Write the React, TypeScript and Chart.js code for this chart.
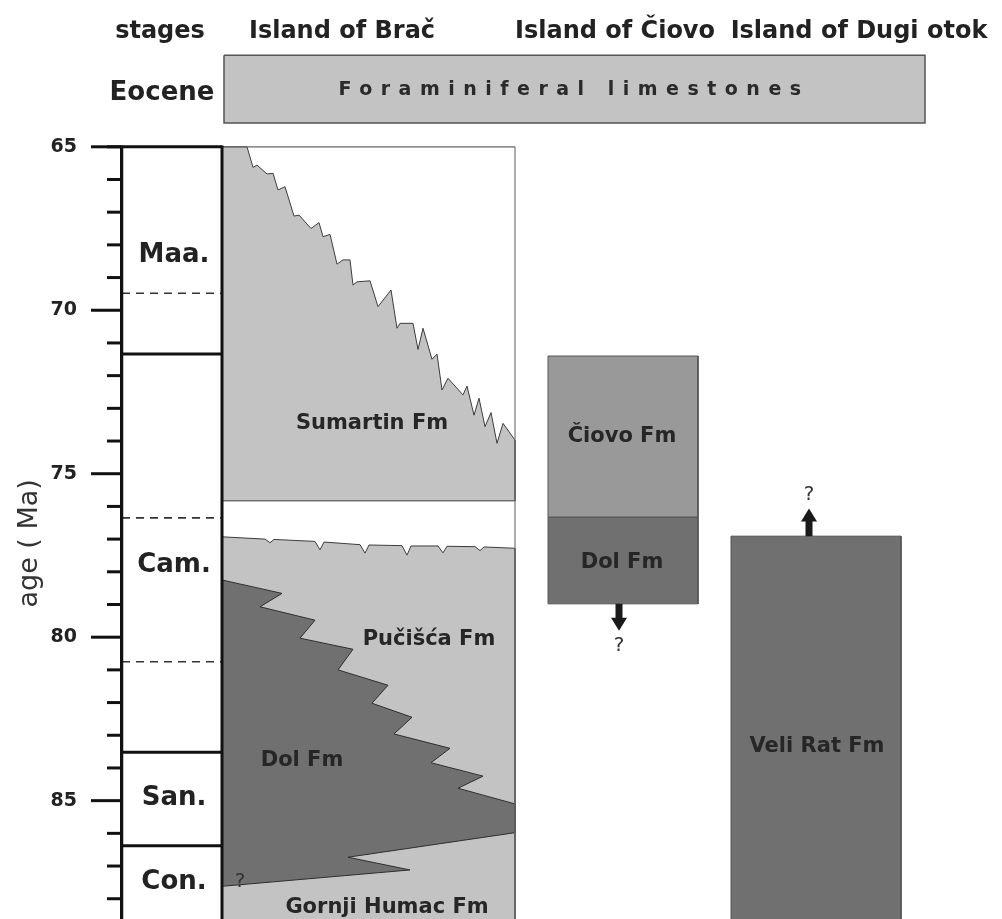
import { useEffect, useRef } from "react";
import { Chart, registerables } from "chart.js";

Chart.register(...registerables);

// ---- scale extents (age in Ma, lateral position in column units) ----
const AGE_TOP = 60.51;
const AGE_BOTTOM = 88.62;
const LAT_MIN = 120;
const LAT_MAX = 1002;

// ---- age axis ----
const majorTicks = [65, 70, 75, 80, 85];
const minorTicks = [66, 67, 68, 69, 71, 72, 73, 74, 76, 77, 78, 79, 81, 82, 83, 84, 86, 87, 88];
const axisTitle = "age ( Ma)";
const axisTitleAge = 77.13;

// ---- column headers ----
const headerNames = ["stages", "Island of Brač", "Island of Čiovo", "Island of Dugi otok"];
const headerPos = [160, 342, 615, 859];
const headerAge = 61.66;

// ---- Eocene ----
const eoceneName = "Eocene";
const eocenePos = 162;
const eoceneLabelAge = 63.57;
const eoceneBandAge = [62.2, 64.27];
const eoceneBandPos = [224, 925];
const eoceneUnit = "Foraminiferal limestones";
const eoceneUnitPos = 570;
const eoceneUnitAge = 63.42;

// ---- stages column ----
const stageColumnPos = [122, 222];
const stageNames = ["Maa.", "Cam.", "San.", "Con."];
const stageLabelAge = [68.31, 77.8, 84.92, 87.5];
const stageLabelPos = 174;
const stageSolidBounds = [65, 71.34, 83.52, 86.38];
const stageDashedBounds = [69.48, 76.35, 80.75];

// ---- Island of Brač ----
const bracPos = [222, 515];
const sumartinEdgePos = [247, 253, 257, 267, 273, 278, 285, 294, 299, 311, 319, 323, 330, 337, 343, 350, 353, 357, 370, 378, 391, 397, 400, 413, 418, 423, 432, 437, 442, 448, 463, 467, 474, 479, 485, 491, 497, 503, 515];
const sumartinEdgeAge = [65.0, 65.63, 65.56, 65.83, 65.81, 66.32, 66.22, 67.12, 67.09, 67.5, 67.32, 67.75, 67.68, 68.59, 68.46, 68.46, 69.23, 69.13, 69.1, 69.89, 69.38, 70.55, 70.4, 70.4, 71.2, 70.55, 71.5, 71.34, 72.44, 72.08, 72.59, 72.32, 73.21, 72.69, 73.56, 73.13, 74.07, 73.46, 73.97];
const sumartinBaseAge = 75.83;
const pucisceTopPos = [222, 265, 270, 274, 315, 320, 324, 360, 365, 369, 402, 407, 411, 438, 443, 447, 475, 480, 484, 515];
const pucisceTopAge = [76.93, 77.0, 77.11, 77.01, 77.07, 77.33, 77.09, 77.17, 77.43, 77.18, 77.2, 77.49, 77.21, 77.21, 77.42, 77.22, 77.23, 77.35, 77.24, 77.28];
const dolBracPos = [222, 282, 260, 315, 300, 353, 338, 388, 372, 412, 394, 450, 431, 483, 458, 515, 515, 348, 410, 222];
const dolBracAge = [78.25, 78.66, 79.07, 79.48, 80.03, 80.37, 81.0, 81.47, 82.02, 82.45, 82.96, 83.4, 83.84, 84.25, 84.62, 85.1, 85.98, 86.73, 87.12, 87.62];

// ---- Island of Čiovo ----
const ciovoPos = [548, 698];
const ciovoFmAge = [71.4, 76.33];
const ciovoDolAge = [76.33, 78.98];

// ---- Island of Dugi otok ----
const dugiPos = [731, 901];
const veliRatAge = [76.91, AGE_BOTTOM];

// ---- formation labels ----
const formationNames = ["Sumartin Fm", "Pučišća Fm", "Dol Fm", "Gornji Humac Fm", "Čiovo Fm", "Dol Fm", "Veli Rat Fm"];
const formationPos = [372, 429, 302, 387, 622, 622, 817];
const formationAge = [73.45, 80.06, 83.76, 88.28, 73.87, 77.72, 83.35];

// ---- uncertain limits ----
const arrowPos = [619, 809];
const arrowFromAge = [78.98, 76.91];
const arrowToAge = [79.8, 76.06];
const queryPos = [240, 619, 809];
const queryAge = [87.49, 80.27, 75.65];

// ---- colours ----
const LIGHT = "#c3c3c3";
const MID = "#999999";
const DARK = "#707070";
const EDGE = "#3c3c3c";
const INK = "#222222";

const FONT = "'DejaVu Sans', 'Noto Sans', sans-serif";

function polygon(xs: number[], ys: number[], fill: string, stroke: string, order: number, width = 1) {
  const data = xs.map((x, i) => ({ x, y: ys[i] }));
  data.push({ x: xs[0], y: ys[0] });
  return {
    data,
    showLine: true,
    fill: "shape",
    backgroundColor: fill,
    borderColor: stroke,
    borderWidth: width,
    pointRadius: 0,
    pointHoverRadius: 0,
    tension: 0,
    order,
  };
}

function rect(x0: number, x1: number, a0: number, a1: number, fill: string, stroke: string, order: number, width = 1) {
  return polygon([x0, x1, x1, x0], [a0, a0, a1, a1], fill, stroke, order, width);
}

function segment(x0: number, x1: number, a0: number, a1: number, color: string, width: number, order: number, dash: number[] = []) {
  return {
    data: [
      { x: x0, y: a0 },
      { x: x1, y: a1 },
    ],
    showLine: true,
    fill: false,
    borderColor: color,
    borderWidth: width,
    borderDash: dash,
    borderCapStyle: "butt",
    pointRadius: 0,
    pointHoverRadius: 0,
    order,
  };
}

function buildDatasets() {
  const ds: any[] = [];
  ds.push(rect(eoceneBandPos[0], eoceneBandPos[1], eoceneBandAge[0], eoceneBandAge[1], LIGHT, "#555555", 100, 1.5));
  ds.push(
    polygon(
      [bracPos[0], ...sumartinEdgePos, bracPos[1], bracPos[0]],
      [65, ...sumartinEdgeAge, sumartinBaseAge, sumartinBaseAge],
      LIGHT,
      EDGE,
      90
    )
  );
  ds.push(
    polygon(
      [...pucisceTopPos, bracPos[1], bracPos[0]],
      [...pucisceTopAge, AGE_BOTTOM + 1, AGE_BOTTOM + 1],
      LIGHT,
      EDGE,
      89
    )
  );
  ds.push(polygon(dolBracPos, dolBracAge, DARK, "#2e2e2e", 88));
  ds.push(rect(ciovoPos[0], ciovoPos[1], ciovoFmAge[0], ciovoFmAge[1], MID, "#555555", 80));
  ds.push(rect(ciovoPos[0], ciovoPos[1], ciovoDolAge[0], ciovoDolAge[1], DARK, "#555555", 79));
  ds.push(rect(dugiPos[0], dugiPos[1], veliRatAge[0], veliRatAge[1] + 1, DARK, "#555555", 78));
  ds.push(segment(bracPos[0], bracPos[1], 65, 65, "#666666", 1.2, 20));
  ds.push(segment(bracPos[1], bracPos[1], 65, AGE_BOTTOM + 1, "#777777", 1.2, 20));
  stageDashedBounds.forEach((a) => ds.push(segment(stageColumnPos[0], stageColumnPos[1], a, a, "#333333", 1.6, 10, [8, 6])));
  stageSolidBounds.forEach((a) => ds.push(segment(stageColumnPos[0], stageColumnPos[1], a, a, "#111111", 3, 5)));
  ds.push(segment(stageColumnPos[0] - 1, stageColumnPos[0] - 1, 64.96, AGE_BOTTOM + 1, "#111111", 4.5, 4));
  ds.push(segment(stageColumnPos[1], stageColumnPos[1], 64.96, AGE_BOTTOM + 1, "#111111", 3, 4));
  return ds;
}

const annotationPlugin = {
  id: "stratAnnotations",
  afterDatasetsDraw(chart: any) {
    const { ctx, scales } = chart;
    const xs = scales.x;
    const ys = scales.y;
    const px = (v: number) => xs.getPixelForValue(v);
    const py = (v: number) => ys.getPixelForValue(v);
    const axisX = px(stageColumnPos[0]) - 1;

    ctx.save();
    ctx.strokeStyle = "#111111";
    ctx.lineWidth = 3;
    ctx.lineCap = "butt";
    majorTicks.forEach((a) => {
      ctx.beginPath();
      ctx.moveTo(axisX - 30, py(a));
      ctx.lineTo(axisX, py(a));
      ctx.stroke();
    });
    minorTicks.forEach((a) => {
      ctx.beginPath();
      ctx.moveTo(axisX - 14, py(a));
      ctx.lineTo(axisX, py(a));
      ctx.stroke();
    });
    ctx.beginPath();
    ctx.moveTo(axisX - 14, py(65));
    ctx.lineTo(px(stageColumnPos[0]), py(65));
    ctx.stroke();

    ctx.save();
    ctx.translate(30, py(axisTitleAge));
    ctx.rotate(-Math.PI / 2);
    ctx.fillStyle = "#333333";
    ctx.font = `27px ${FONT}`;
    ctx.textAlign = "center";
    ctx.textBaseline = "middle";
    ctx.fillText(axisTitle, 0, 0);
    ctx.restore();

    ctx.fillStyle = INK;
    ctx.font = `bold 24px ${FONT}`;
    ctx.textAlign = "center";
    ctx.textBaseline = "alphabetic";
    headerNames.forEach((t, i) => ctx.fillText(t, px(headerPos[i]), py(headerAge)));

    ctx.font = `bold 26px ${FONT}`;
    ctx.fillText(eoceneName, px(eocenePos), py(eoceneLabelAge));
    ctx.font = `bold 19px ${FONT}`;
    ctx.fillStyle = "#2a2a2a";
    (ctx as any).letterSpacing = "8.5px";
    ctx.fillText(eoceneUnit, px(eoceneUnitPos) + 4, py(eoceneUnitAge));
    (ctx as any).letterSpacing = "0px";

    ctx.fillStyle = INK;
    ctx.font = `bold 26px ${FONT}`;
    ctx.textBaseline = "middle";
    stageNames.forEach((t, i) => ctx.fillText(t, px(stageLabelPos), py(stageLabelAge[i])));

    ctx.font = `bold 21px ${FONT}`;
    ctx.fillStyle = "#262626";
    formationNames.forEach((t, i) => ctx.fillText(t, px(formationPos[i]), py(formationAge[i])));

    ctx.fillStyle = "#1a1a1a";
    arrowPos.forEach((p, i) => {
      const x = px(p);
      const y0 = py(arrowFromAge[i]);
      const y1 = py(arrowToAge[i]);
      const dir = Math.sign(y1 - y0);
      const yh = y1 - dir * 13;
      ctx.beginPath();
      ctx.moveTo(x - 3.5, y0);
      ctx.lineTo(x + 3.5, y0);
      ctx.lineTo(x + 3.5, yh);
      ctx.lineTo(x + 8, yh);
      ctx.lineTo(x, y1);
      ctx.lineTo(x - 8, yh);
      ctx.lineTo(x - 3.5, yh);
      ctx.closePath();
      ctx.fill();
    });

    ctx.fillStyle = "#333333";
    ctx.font = `20px ${FONT}`;
    queryPos.forEach((p, i) => ctx.fillText("?", px(p), py(queryAge[i])));
    ctx.restore();
  },
};

export default function App() {
  const ref = useRef<HTMLCanvasElement>(null);
  useEffect(() => {
    if (!ref.current) return;
    const chart = new Chart(ref.current, {
      type: "scatter",
      data: { datasets: buildDatasets() as any },
      options: {
        animation: false,
        responsive: false,
        devicePixelRatio: 1,
        events: [],
        layout: { padding: 0 },
        plugins: { legend: { display: false }, tooltip: { enabled: false } },
        scales: {
          x: { type: "linear", display: false, min: LAT_MIN, max: LAT_MAX },
          y: {
            type: "linear",
            position: "left",
            reverse: true,
            min: AGE_TOP,
            max: AGE_BOTTOM,
            afterBuildTicks: (axis: any) => {
              axis.ticks = majorTicks.map((v) => ({ value: v }));
            },
            afterFit: (axis: any) => {
              axis.width = 120;
              axis.paddingTop = 0;
              axis.paddingBottom = 0;
            },
            grid: { display: false, drawTicks: false },
            border: { display: false },
            ticks: {
              autoSkip: false,
              padding: 43,
              color: INK,
              font: { family: FONT, size: 19, weight: "bold" },
              callback: (v: any) => String(v),
            },
          },
        },
      } as any,
      plugins: [annotationPlugin],
    });
    return () => chart.destroy();
  }, []);
  return (
    <div style={{ position: "absolute", left: 0, top: 0, width: 1002, height: 919, background: "#ffffff" }}>
      <canvas ref={ref} width={1002} height={919} style={{ display: "block", width: 1002, height: 919 }} />
    </div>
  );
}
